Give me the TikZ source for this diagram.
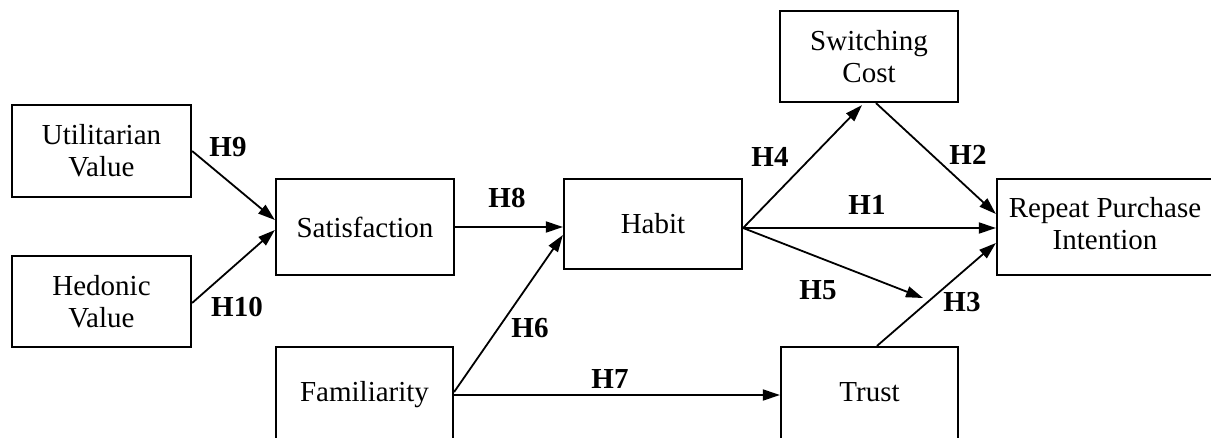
\documentclass[tikz,border=0pt]{standalone}
\usepackage{fontspec}
\setmainfont{Liberation Serif}
\usetikzlibrary{arrows.meta,calc}
\begin{document}
\begin{tikzpicture}[x=1pt,y=-1pt,
  box/.style={draw,line width=2.2pt,rectangle,inner sep=0pt,align=center,font=\fontsize{29}{32}\selectfont},
  conn/.style={line width=1.8pt,-{Triangle[length=17pt,width=11pt]}},
  hl/.style={font=\fontsize{29}{32}\selectfont\bfseries,inner sep=0pt}]
\path[use as bounding box,clip] (0,0) rectangle (1211,437);
\node[box,minimum width=179pt,minimum height=92pt] (util) at (101.5,151) {Utilitarian\\Value};
\node[box,minimum width=179pt,minimum height=91pt] (hed) at (101.5,301.5) {Hedonic\\Value};
\node[box,minimum width=178pt,minimum height=96pt] (sat) at (365,227) {Satisfaction};
\node[box,minimum width=178pt,minimum height=90pt] (hab) at (653,224) {Habit};
\node[box,minimum width=177pt,minimum height=96pt] (fam) at (364.5,395) {\raisebox{7pt}{Familiarity}};
\node[box,minimum width=177pt,minimum height=96pt] (trust) at (869.5,395) {\raisebox{7pt}{Trust}};
\node[box,minimum width=178pt,minimum height=91pt] (sw) at (869,56.5) {Switching\\Cost};
\node[box,minimum width=216pt,minimum height=96pt] (rpi) at (1105,227) {\raisebox{8pt}{\begin{tabular}{@{}c@{}}Repeat Purchase\\Intention\end{tabular}}};
\coordinate (h5end) at (923,298);
\draw[conn] (util.east) -- ($(sat.west)+(0,-7)$);
\draw[conn] ($(hed.east)+(0,1.5)$) -- ($(sat.west)+(0,3)$);
\draw[conn] (sat.east) -- ($(hab.west)+(0,3)$);
\draw[conn] ($(fam.east)+(0,-3)$) -- ($(hab.west)+(0,11)$);
\draw[conn] (fam.east) -- (trust.west);
\draw[conn] ($(hab.east)+(0,4)$) -- ($(sw.south)+(-7,2)$);
\draw[conn] ($(sw.south)+(7,0)$) -- ($(rpi.west)+(0,-13)$);
\draw[conn] ($(hab.east)+(0,4)$) -- ($(rpi.west)+(0,1)$);
\draw[conn] ($(hab.east)+(0,4)$) -- (h5end);
\draw[conn] ($(trust.north)+(7.5,0)$) -- ($(rpi.west)+(0,16)$);
\node[hl] (l9) at (228,147) {H9};
\node[hl] (l10) at (237,307) {H10};
\node[hl] (l8) at (507,198) {H8};
\node[hl] (l6) at (530,328) {H6};
\node[hl] (l7) at (610,379) {H7};
\node[hl] (l4) at (770,157) {H4};
\node[hl] (l2) at (968,155) {H2};
\node[hl] (l1) at (867,205) {H1};
\node[hl] (l5) at (818,290) {H5};
\node[hl] (l3) at (962,302) {H3};
\end{tikzpicture}
\end{document}
